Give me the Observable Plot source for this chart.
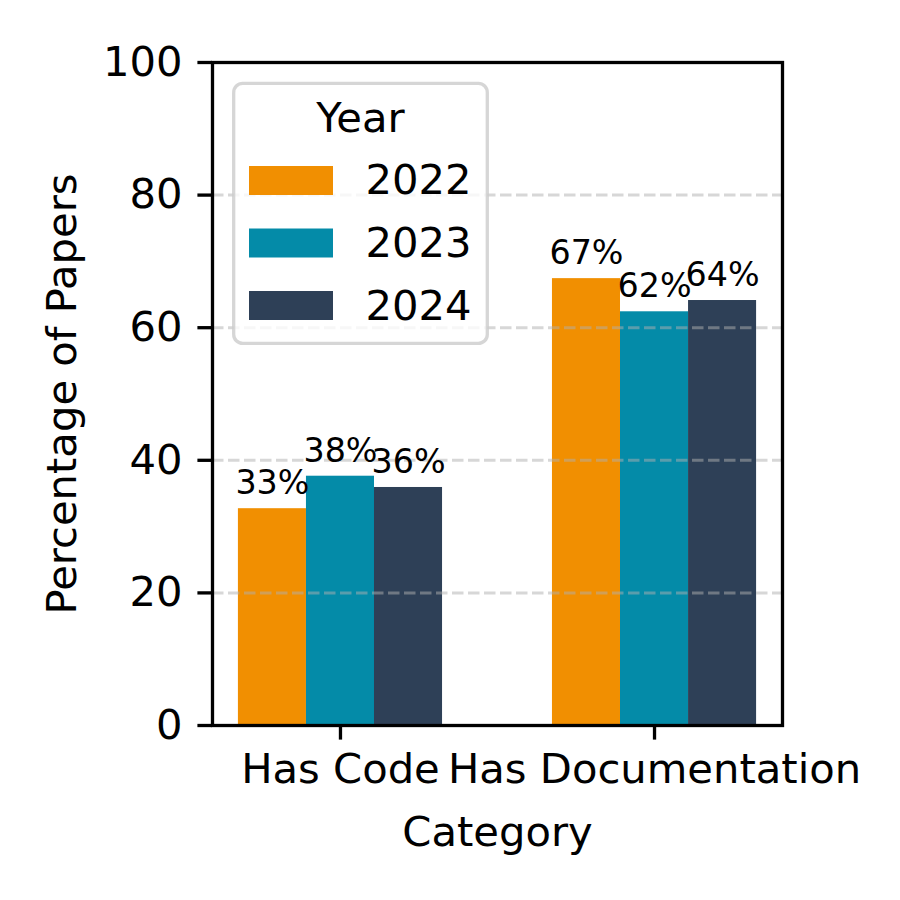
<!DOCTYPE html>
<html>
<head>
<meta charset="utf-8">
<script src="https://cdn.jsdelivr.net/npm/d3@7"></script>
<script src="https://cdn.jsdelivr.net/npm/@observablehq/plot@0.6"></script>
<style>
  html, body { margin: 0; padding: 0; background: white; }
  #chart { width: 900px; height: 900px; }
</style>
</head>
<body>
<div id="chart"></div>
<script>
const categories = ["Has Code", "Has Documentation"];
const years = ["2022", "2023", "2024"];
const colors = ["#F18F01", "#048BA8", "#2E4057"];
const hasCode = [32.7, 37.6, 35.9];
const hasDoc = [67.4, 62.4, 64.1];
const yTicks = [0, 20, 40, 60, 80, 100];
const yLabel = "Percentage of Papers";
const xLabel = "Category";
const legendTitle = "Year";

const series = [hasCode, hasDoc];
const data = categories.flatMap((c, ci) =>
  years.map((y, yi) => ({category: c, ci, year: y, yi, value: series[ci][yi]}))
);
const bw = 0.65 / years.length;
const x1 = d => d.ci + (d.yi - 1) * bw - bw / 2;
const x2 = d => d.ci + (d.yi - 1) * bw + bw / 2;
const xc = d => d.ci + (d.yi - 1) * bw;

const FS = 41.7;
const font = "DejaVu Sans, sans-serif";

const svg = Plot.plot({
  width: 900,
  height: 900,
  marginLeft: 212,
  marginRight: 118,
  marginTop: 62,
  marginBottom: 175,
  style: {fontFamily: font, background: "white", color: "black", overflow: "visible"},
  x: {domain: [-0.4075, 1.4075], axis: null},
  y: {domain: [0, 100], axis: null},
  color: {domain: years, range: colors},
  marks: [
    Plot.rectY(data, {x1, x2, y: "value", fill: "year"}),
    Plot.ruleY(yTicks, {stroke: "#b0b0b0", strokeOpacity: 0.5, strokeWidth: 3, strokeDasharray: "11.5,4.5"}),
    Plot.text(data, {x: xc, y: "value", text: d => Math.round(d.value) + "%", fontSize: 33.3, lineAnchor: "middle", dy: -25, fill: "black"}),
    Plot.frame({stroke: "black", strokeWidth: 3.3}),
    Plot.axisY(yTicks, {tickSize: 14.6, tickPadding: 15.4, fontSize: FS, strokeWidth: 3.3, label: null}),
    Plot.axisX([0, 1], {tickFormat: i => categories[i], tickSize: 14.6, tickPadding: 12.8, fontSize: FS, strokeWidth: 3.3, label: null}),
    Plot.text([yLabel], {frameAnchor: "left", dx: -150, rotate: -90, fontSize: FS, textAnchor: "middle", lineAnchor: "middle", text: d => d}),
    Plot.text([xLabel], {frameAnchor: "bottom", dy: 106.7, fontSize: FS, textAnchor: "middle", lineAnchor: "middle", text: d => d})
  ]
});

// Legend (inside the axes, upper left), drawn into the same SVG
const lg = d3.select(svg).append("g").attr("font-family", font);
lg.append("rect")
  .attr("x", 233.7).attr("y", 83.4).attr("width", 253.6).attr("height", 260)
  .attr("rx", 9).attr("fill", "white").attr("fill-opacity", 0.8)
  .attr("stroke", "#cccccc").attr("stroke-opacity", 0.8).attr("stroke-width", 3.3);
lg.append("text").attr("x", 360.5).attr("y", 131.7).attr("text-anchor", "middle")
  .attr("font-size", FS).attr("fill", "black").text(legendTitle);
years.forEach((yr, i) => {
  lg.append("rect").attr("x", 249).attr("y", 166 + i * 62.5).attr("width", 84).attr("height", 29)
    .attr("fill", colors[i]);
  lg.append("text").attr("x", 365.5).attr("y", 194 + i * 63).attr("font-size", FS)
    .attr("text-anchor", "start").attr("fill", "black").text(yr);
});

document.getElementById("chart").appendChild(svg);
</script>
</body>
</html>
